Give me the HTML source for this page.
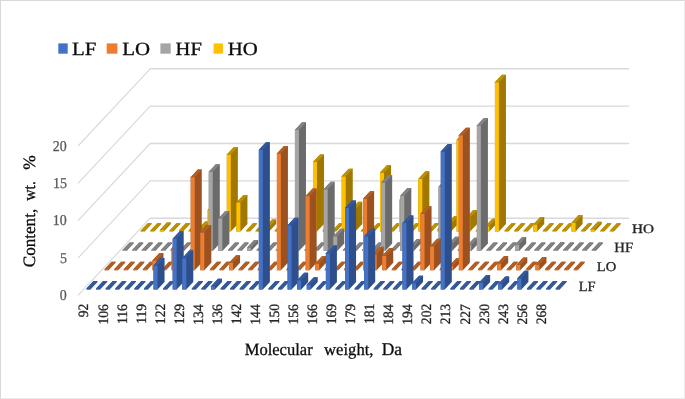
<!DOCTYPE html>
<html><head><meta charset="utf-8">
<style>
html,body{margin:0;padding:0;background:#fff;}
body{width:685px;height:399px;position:relative;overflow:hidden;font-family:"Liberation Serif",serif;}
#frame{position:absolute;left:0;top:0;width:683px;height:397px;border:1px solid #D9D9D9;border-right-color:#EBEBEB;border-bottom-color:#EBEBEB;}
svg{position:absolute;left:0;top:0;will-change:transform;filter:blur(0.45px);text-rendering:geometricPrecision;}
svg text{font-family:"Liberation Serif",serif;}
</style></head><body>
<div id="frame"></div>
<svg width="685" height="399" viewBox="0 0 685 399">
<line x1="78" y1="295.4" x2="150.2" y2="218.2" stroke="#D9D9D9" stroke-width="1.15"/>
<line x1="149.9" y1="218.2" x2="628.95" y2="218.2" stroke="#D9D9D9" stroke-width="1.4"/>
<line x1="78" y1="258.05" x2="150.2" y2="180.85" stroke="#D9D9D9" stroke-width="1.15"/>
<line x1="149.9" y1="180.85" x2="628.95" y2="180.85" stroke="#D9D9D9" stroke-width="1.4"/>
<line x1="78" y1="220.7" x2="150.2" y2="143.5" stroke="#D9D9D9" stroke-width="1.15"/>
<line x1="149.9" y1="143.5" x2="628.95" y2="143.5" stroke="#D9D9D9" stroke-width="1.4"/>
<line x1="78" y1="183.35" x2="150.2" y2="106.15" stroke="#D9D9D9" stroke-width="1.15"/>
<line x1="149.9" y1="106.15" x2="628.95" y2="106.15" stroke="#D9D9D9" stroke-width="1.4"/>
<line x1="78" y1="146" x2="150.2" y2="68.8" stroke="#D9D9D9" stroke-width="1.15"/>
<line x1="149.9" y1="68.8" x2="628.95" y2="68.8" stroke="#D9D9D9" stroke-width="1.4"/>
<polygon points="140.64,231.61 140.64,230.71 147.68,223.19 151.68,223.19 151.68,224.09 144.64,231.61" fill="#A07800"/><rect x="140.64" y="230.71" width="4" height="0.9" fill="#FFC000"/><polygon points="140.64,230.71 144.64,230.71 151.68,223.19 147.68,223.19" fill="#BE9100"/>
<polygon points="150.22,231.61 150.22,230.71 157.26,223.19 161.26,223.19 161.26,224.09 154.22,231.61" fill="#A07800"/><rect x="150.22" y="230.71" width="4" height="0.9" fill="#FFC000"/><polygon points="150.22,230.71 154.22,230.71 161.26,223.19 157.26,223.19" fill="#BE9100"/>
<polygon points="159.79,231.61 159.79,230.12 166.83,222.59 170.83,222.59 170.83,224.09 163.79,231.61" fill="#A07800"/><rect x="159.79" y="230.12" width="4" height="1.49" fill="#FFC000"/><polygon points="159.79,230.12 163.79,230.12 170.83,222.59 166.83,222.59" fill="#BE9100"/>
<polygon points="169.37,231.61 169.37,230.71 176.41,223.19 180.41,223.19 180.41,224.09 173.37,231.61" fill="#A07800"/><rect x="169.37" y="230.71" width="4" height="0.9" fill="#FFC000"/><polygon points="169.37,230.71 173.37,230.71 180.41,223.19 176.41,223.19" fill="#BE9100"/>
<polygon points="178.94,231.61 178.94,230.49 185.98,222.97 189.98,222.97 189.98,224.09 182.94,231.61" fill="#A07800"/><rect x="178.94" y="230.49" width="4" height="1.12" fill="#FFC000"/><polygon points="178.94,230.49 182.94,230.49 189.98,222.97 185.98,222.97" fill="#BE9100"/>
<polygon points="188.52,231.61 188.52,230.71 195.56,223.19 199.56,223.19 199.56,224.09 192.52,231.61" fill="#A07800"/><rect x="188.52" y="230.71" width="4" height="0.9" fill="#FFC000"/><polygon points="188.52,230.71 192.52,230.71 199.56,223.19 195.56,223.19" fill="#BE9100"/>
<polygon points="198.09,231.61 198.09,229 205.13,221.47 209.13,221.47 209.13,224.09 202.09,231.61" fill="#A07800"/><rect x="198.09" y="229" width="4" height="2.61" fill="#FFC000"/><polygon points="198.09,229 202.09,229 209.13,221.47 205.13,221.47" fill="#BE9100"/>
<polygon points="207.67,231.61 207.67,209.95 214.71,202.42 218.71,202.42 218.71,224.09 211.67,231.61" fill="#A07800"/><rect x="207.67" y="209.95" width="4" height="21.66" fill="#FFC000"/><polygon points="207.67,209.95 211.67,209.95 218.71,202.42 214.71,202.42" fill="#BE9100"/>
<polygon points="217.24,231.61 217.24,230.71 224.28,223.19 228.28,223.19 228.28,224.09 221.24,231.61" fill="#A07800"/><rect x="217.24" y="230.71" width="4" height="0.9" fill="#FFC000"/><polygon points="217.24,230.71 221.24,230.71 228.28,223.19 224.28,223.19" fill="#BE9100"/>
<polygon points="226.82,231.61 226.82,154.45 233.86,146.92 237.86,146.92 237.86,224.09 230.82,231.61" fill="#A07800"/><rect x="226.82" y="154.45" width="4" height="77.17" fill="#FFC000"/><polygon points="226.82,154.45 230.82,154.45 237.86,146.92 233.86,146.92" fill="#BE9100"/>
<polygon points="236.39,231.61 236.39,202.41 243.43,194.88 247.43,194.88 247.43,224.09 240.39,231.61" fill="#A07800"/><rect x="236.39" y="202.41" width="4" height="29.21" fill="#FFC000"/><polygon points="236.39,202.41 240.39,202.41 247.43,194.88 243.43,194.88" fill="#BE9100"/>
<polygon points="245.97,231.61 245.97,230.71 253.01,223.19 257.01,223.19 257.01,224.09 249.97,231.61" fill="#A07800"/><rect x="245.97" y="230.71" width="4" height="0.9" fill="#FFC000"/><polygon points="245.97,230.71 249.97,230.71 257.01,223.19 253.01,223.19" fill="#BE9100"/>
<polygon points="255.54,231.61 255.54,230.71 262.58,223.19 266.58,223.19 266.58,224.09 259.54,231.61" fill="#A07800"/><rect x="255.54" y="230.71" width="4" height="0.9" fill="#FFC000"/><polygon points="255.54,230.71 259.54,230.71 266.58,223.19 262.58,223.19" fill="#BE9100"/>
<polygon points="265.12,231.61 265.12,227.13 272.16,219.6 276.16,219.6 276.16,224.09 269.12,231.61" fill="#A07800"/><rect x="265.12" y="227.13" width="4" height="4.48" fill="#FFC000"/><polygon points="265.12,227.13 269.12,227.13 276.16,219.6 272.16,219.6" fill="#BE9100"/>
<polygon points="274.69,231.61 274.69,230.71 281.73,223.19 285.73,223.19 285.73,224.09 278.69,231.61" fill="#A07800"/><rect x="274.69" y="230.71" width="4" height="0.9" fill="#FFC000"/><polygon points="274.69,230.71 278.69,230.71 285.73,223.19 281.73,223.19" fill="#BE9100"/>
<polygon points="284.27,231.61 284.27,230.71 291.31,223.19 295.31,223.19 295.31,224.09 288.27,231.61" fill="#A07800"/><rect x="284.27" y="230.71" width="4" height="0.9" fill="#FFC000"/><polygon points="284.27,230.71 288.27,230.71 295.31,223.19 291.31,223.19" fill="#BE9100"/>
<polygon points="293.84,231.61 293.84,230.71 300.88,223.19 304.88,223.19 304.88,224.09 297.84,231.61" fill="#A07800"/><rect x="293.84" y="230.71" width="4" height="0.9" fill="#FFC000"/><polygon points="293.84,230.71 297.84,230.71 304.88,223.19 300.88,223.19" fill="#BE9100"/>
<polygon points="303.42,231.61 303.42,230.71 310.46,223.19 314.46,223.19 314.46,224.09 307.42,231.61" fill="#A07800"/><rect x="303.42" y="230.71" width="4" height="0.9" fill="#FFC000"/><polygon points="303.42,230.71 307.42,230.71 314.46,223.19 310.46,223.19" fill="#BE9100"/>
<polygon points="312.99,231.61 312.99,161.92 320.03,154.39 324.03,154.39 324.03,224.09 316.99,231.61" fill="#A07800"/><rect x="312.99" y="161.92" width="4" height="69.7" fill="#FFC000"/><polygon points="312.99,161.92 316.99,161.92 324.03,154.39 320.03,154.39" fill="#BE9100"/>
<polygon points="322.57,231.61 322.57,230.71 329.61,223.19 333.61,223.19 333.61,224.09 326.57,231.61" fill="#A07800"/><rect x="322.57" y="230.71" width="4" height="0.9" fill="#FFC000"/><polygon points="322.57,230.71 326.57,230.71 333.61,223.19 329.61,223.19" fill="#BE9100"/>
<polygon points="332.14,231.61 332.14,230.71 339.18,223.19 343.18,223.19 343.18,224.09 336.14,231.61" fill="#A07800"/><rect x="332.14" y="230.71" width="4" height="0.9" fill="#FFC000"/><polygon points="332.14,230.71 336.14,230.71 343.18,223.19 339.18,223.19" fill="#BE9100"/>
<polygon points="341.72,231.61 341.72,176.34 348.76,168.81 352.76,168.81 352.76,224.09 345.72,231.61" fill="#A07800"/><rect x="341.72" y="176.34" width="4" height="55.28" fill="#FFC000"/><polygon points="341.72,176.34 345.72,176.34 352.76,168.81 348.76,168.81" fill="#BE9100"/>
<polygon points="351.29,231.61 351.29,209.2 358.33,201.68 362.33,201.68 362.33,224.09 355.29,231.61" fill="#A07800"/><rect x="351.29" y="209.2" width="4" height="22.41" fill="#FFC000"/><polygon points="351.29,209.2 355.29,209.2 362.33,201.68 358.33,201.68" fill="#BE9100"/>
<polygon points="360.87,231.61 360.87,230.71 367.91,223.19 371.91,223.19 371.91,224.09 364.87,231.61" fill="#A07800"/><rect x="360.87" y="230.71" width="4" height="0.9" fill="#FFC000"/><polygon points="360.87,230.71 364.87,230.71 371.91,223.19 367.91,223.19" fill="#BE9100"/>
<polygon points="370.44,231.61 370.44,230.71 377.48,223.19 381.48,223.19 381.48,224.09 374.44,231.61" fill="#A07800"/><rect x="370.44" y="230.71" width="4" height="0.9" fill="#FFC000"/><polygon points="370.44,230.71 374.44,230.71 381.48,223.19 377.48,223.19" fill="#BE9100"/>
<polygon points="380.02,231.61 380.02,172.6 387.06,165.07 391.06,165.07 391.06,224.09 384.02,231.61" fill="#A07800"/><rect x="380.02" y="172.6" width="4" height="59.01" fill="#FFC000"/><polygon points="380.02,172.6 384.02,172.6 391.06,165.07 387.06,165.07" fill="#BE9100"/>
<polygon points="389.59,231.61 389.59,230.71 396.63,223.19 400.63,223.19 400.63,224.09 393.59,231.61" fill="#A07800"/><rect x="389.59" y="230.71" width="4" height="0.9" fill="#FFC000"/><polygon points="389.59,230.71 393.59,230.71 400.63,223.19 396.63,223.19" fill="#BE9100"/>
<polygon points="399.17,231.61 399.17,200.24 406.21,192.71 410.21,192.71 410.21,224.09 403.17,231.61" fill="#A07800"/><rect x="399.17" y="200.24" width="4" height="31.37" fill="#FFC000"/><polygon points="399.17,200.24 403.17,200.24 410.21,192.71 406.21,192.71" fill="#BE9100"/>
<polygon points="408.74,231.61 408.74,230.71 415.78,223.19 419.78,223.19 419.78,224.09 412.74,231.61" fill="#A07800"/><rect x="408.74" y="230.71" width="4" height="0.9" fill="#FFC000"/><polygon points="408.74,230.71 412.74,230.71 419.78,223.19 415.78,223.19" fill="#BE9100"/>
<polygon points="418.32,231.61 418.32,178.88 425.36,171.35 429.36,171.35 429.36,224.09 422.32,231.61" fill="#A07800"/><rect x="418.32" y="178.88" width="4" height="52.74" fill="#FFC000"/><polygon points="418.32,178.88 422.32,178.88 429.36,171.35 425.36,171.35" fill="#BE9100"/>
<polygon points="427.89,231.61 427.89,230.71 434.93,223.19 438.93,223.19 438.93,224.09 431.89,231.61" fill="#A07800"/><rect x="427.89" y="230.71" width="4" height="0.9" fill="#FFC000"/><polygon points="427.89,230.71 431.89,230.71 438.93,223.19 434.93,223.19" fill="#BE9100"/>
<polygon points="437.47,231.61 437.47,229.15 444.51,221.62 448.51,221.62 448.51,224.09 441.47,231.61" fill="#A07800"/><rect x="437.47" y="229.15" width="4" height="2.47" fill="#FFC000"/><polygon points="437.47,229.15 441.47,229.15 448.51,221.62 444.51,221.62" fill="#BE9100"/>
<polygon points="447.04,231.61 447.04,223.77 454.08,216.24 458.08,216.24 458.08,224.09 451.04,231.61" fill="#A07800"/><rect x="447.04" y="223.77" width="4" height="7.84" fill="#FFC000"/><polygon points="447.04,223.77 451.04,223.77 458.08,216.24 454.08,216.24" fill="#BE9100"/>
<polygon points="456.62,231.61 456.62,140.03 463.66,132.5 467.66,132.5 467.66,224.09 460.62,231.61" fill="#A07800"/><rect x="456.62" y="140.03" width="4" height="91.58" fill="#FFC000"/><polygon points="456.62,140.03 460.62,140.03 467.66,132.5 463.66,132.5" fill="#BE9100"/>
<polygon points="466.19,231.61 466.19,217.42 473.23,209.89 477.23,209.89 477.23,224.09 470.19,231.61" fill="#A07800"/><rect x="466.19" y="217.42" width="4" height="14.19" fill="#FFC000"/><polygon points="466.19,217.42 470.19,217.42 477.23,209.89 473.23,209.89" fill="#BE9100"/>
<polygon points="475.77,231.61 475.77,230.71 482.81,223.19 486.81,223.19 486.81,224.09 479.77,231.61" fill="#A07800"/><rect x="475.77" y="230.71" width="4" height="0.9" fill="#FFC000"/><polygon points="475.77,230.71 479.77,230.71 486.81,223.19 482.81,223.19" fill="#BE9100"/>
<polygon points="485.34,231.61 485.34,226.16 492.38,218.63 496.38,218.63 496.38,224.09 489.34,231.61" fill="#A07800"/><rect x="485.34" y="226.16" width="4" height="5.45" fill="#FFC000"/><polygon points="485.34,226.16 489.34,226.16 496.38,218.63 492.38,218.63" fill="#BE9100"/>
<polygon points="494.92,231.61 494.92,82.21 501.96,74.69 505.96,74.69 505.96,224.09 498.92,231.61" fill="#A07800"/><rect x="494.92" y="82.21" width="4" height="149.4" fill="#FFC000"/><polygon points="494.92,82.21 498.92,82.21 505.96,74.69 501.96,74.69" fill="#BE9100"/>
<polygon points="504.49,231.61 504.49,230.71 511.53,223.19 515.53,223.19 515.53,224.09 508.49,231.61" fill="#A07800"/><rect x="504.49" y="230.71" width="4" height="0.9" fill="#FFC000"/><polygon points="504.49,230.71 508.49,230.71 515.53,223.19 511.53,223.19" fill="#BE9100"/>
<polygon points="514.07,231.61 514.07,230.71 521.11,223.19 525.11,223.19 525.11,224.09 518.07,231.61" fill="#A07800"/><rect x="514.07" y="230.71" width="4" height="0.9" fill="#FFC000"/><polygon points="514.07,230.71 518.07,230.71 525.11,223.19 521.11,223.19" fill="#BE9100"/>
<polygon points="523.64,231.61 523.64,230.71 530.68,223.19 534.68,223.19 534.68,224.09 527.64,231.61" fill="#A07800"/><rect x="523.64" y="230.71" width="4" height="0.9" fill="#FFC000"/><polygon points="523.64,230.71 527.64,230.71 534.68,223.19 530.68,223.19" fill="#BE9100"/>
<polygon points="533.22,231.61 533.22,224.52 540.26,216.99 544.26,216.99 544.26,224.09 537.22,231.61" fill="#A07800"/><rect x="533.22" y="224.52" width="4" height="7.1" fill="#FFC000"/><polygon points="533.22,224.52 537.22,224.52 544.26,216.99 540.26,216.99" fill="#BE9100"/>
<polygon points="542.79,231.61 542.79,230.71 549.83,223.19 553.83,223.19 553.83,224.09 546.79,231.61" fill="#A07800"/><rect x="542.79" y="230.71" width="4" height="0.9" fill="#FFC000"/><polygon points="542.79,230.71 546.79,230.71 553.83,223.19 549.83,223.19" fill="#BE9100"/>
<polygon points="552.37,231.61 552.37,230.71 559.41,223.19 563.41,223.19 563.41,224.09 556.37,231.61" fill="#A07800"/><rect x="552.37" y="230.71" width="4" height="0.9" fill="#FFC000"/><polygon points="552.37,230.71 556.37,230.71 563.41,223.19 559.41,223.19" fill="#BE9100"/>
<polygon points="561.94,231.61 561.94,230.71 568.98,223.19 572.98,223.19 572.98,224.09 565.94,231.61" fill="#A07800"/><rect x="561.94" y="230.71" width="4" height="0.9" fill="#FFC000"/><polygon points="561.94,230.71 565.94,230.71 572.98,223.19 568.98,223.19" fill="#BE9100"/>
<polygon points="571.52,231.61 571.52,222.65 578.56,215.12 582.56,215.12 582.56,224.09 575.52,231.61" fill="#A07800"/><rect x="571.52" y="222.65" width="4" height="8.96" fill="#FFC000"/><polygon points="571.52,222.65 575.52,222.65 582.56,215.12 578.56,215.12" fill="#BE9100"/>
<polygon points="581.09,231.61 581.09,230.71 588.13,223.19 592.13,223.19 592.13,224.09 585.09,231.61" fill="#A07800"/><rect x="581.09" y="230.71" width="4" height="0.9" fill="#FFC000"/><polygon points="581.09,230.71 585.09,230.71 592.13,223.19 588.13,223.19" fill="#BE9100"/>
<polygon points="590.67,231.61 590.67,229.37 597.71,221.85 601.71,221.85 601.71,224.09 594.67,231.61" fill="#A07800"/><rect x="590.67" y="229.37" width="4" height="2.24" fill="#FFC000"/><polygon points="590.67,229.37 594.67,229.37 601.71,221.85 597.71,221.85" fill="#BE9100"/>
<polygon points="600.24,231.61 600.24,230.71 607.28,223.19 611.28,223.19 611.28,224.09 604.24,231.61" fill="#A07800"/><rect x="600.24" y="230.71" width="4" height="0.9" fill="#FFC000"/><polygon points="600.24,230.71 604.24,230.71 611.28,223.19 607.28,223.19" fill="#BE9100"/>
<polygon points="609.82,231.61 609.82,230.71 616.86,223.19 620.86,223.19 620.86,224.09 613.82,231.61" fill="#A07800"/><rect x="609.82" y="230.71" width="4" height="0.9" fill="#FFC000"/><polygon points="609.82,230.71 613.82,230.71 620.86,223.19 616.86,223.19" fill="#BE9100"/>
<polygon points="122.59,250.91 122.59,250.01 129.63,242.49 133.63,242.49 133.63,243.39 126.59,250.91" fill="#6B6B6B"/><rect x="122.59" y="250.01" width="4" height="0.9" fill="#A5A5A5"/><polygon points="122.59,250.01 126.59,250.01 133.63,242.49 129.63,242.49" fill="#838383"/>
<polygon points="132.17,250.91 132.17,250.01 139.21,242.49 143.21,242.49 143.21,243.39 136.17,250.91" fill="#6B6B6B"/><rect x="132.17" y="250.01" width="4" height="0.9" fill="#A5A5A5"/><polygon points="132.17,250.01 136.17,250.01 143.21,242.49 139.21,242.49" fill="#838383"/>
<polygon points="141.74,250.91 141.74,250.01 148.78,242.49 152.78,242.49 152.78,243.39 145.74,250.91" fill="#6B6B6B"/><rect x="141.74" y="250.01" width="4" height="0.9" fill="#A5A5A5"/><polygon points="141.74,250.01 145.74,250.01 152.78,242.49 148.78,242.49" fill="#838383"/>
<polygon points="151.32,250.91 151.32,250.01 158.36,242.49 162.36,242.49 162.36,243.39 155.32,250.91" fill="#6B6B6B"/><rect x="151.32" y="250.01" width="4" height="0.9" fill="#A5A5A5"/><polygon points="151.32,250.01 155.32,250.01 162.36,242.49 158.36,242.49" fill="#838383"/>
<polygon points="160.89,250.91 160.89,250.01 167.93,242.49 171.93,242.49 171.93,243.39 164.89,250.91" fill="#6B6B6B"/><rect x="160.89" y="250.01" width="4" height="0.9" fill="#A5A5A5"/><polygon points="160.89,250.01 164.89,250.01 171.93,242.49 167.93,242.49" fill="#838383"/>
<polygon points="170.47,250.91 170.47,250.01 177.51,242.49 181.51,242.49 181.51,243.39 174.47,250.91" fill="#6B6B6B"/><rect x="170.47" y="250.01" width="4" height="0.9" fill="#A5A5A5"/><polygon points="170.47,250.01 174.47,250.01 181.51,242.49 177.51,242.49" fill="#838383"/>
<polygon points="180.04,250.91 180.04,250.01 187.08,242.49 191.08,242.49 191.08,243.39 184.04,250.91" fill="#6B6B6B"/><rect x="180.04" y="250.01" width="4" height="0.9" fill="#A5A5A5"/><polygon points="180.04,250.01 184.04,250.01 191.08,242.49 187.08,242.49" fill="#838383"/>
<polygon points="189.62,250.91 189.62,250.01 196.66,242.49 200.66,242.49 200.66,243.39 193.62,250.91" fill="#6B6B6B"/><rect x="189.62" y="250.01" width="4" height="0.9" fill="#A5A5A5"/><polygon points="189.62,250.01 193.62,250.01 200.66,242.49 196.66,242.49" fill="#838383"/>
<polygon points="199.19,250.91 199.19,250.01 206.23,242.49 210.23,242.49 210.23,243.39 203.19,250.91" fill="#6B6B6B"/><rect x="199.19" y="250.01" width="4" height="0.9" fill="#A5A5A5"/><polygon points="199.19,250.01 203.19,250.01 210.23,242.49 206.23,242.49" fill="#838383"/>
<polygon points="208.77,250.91 208.77,171.73 215.81,164.2 219.81,164.2 219.81,243.39 212.77,250.91" fill="#6B6B6B"/><rect x="208.77" y="171.73" width="4" height="79.18" fill="#A5A5A5"/><polygon points="208.77,171.73 212.77,171.73 219.81,164.2 215.81,164.2" fill="#838383"/>
<polygon points="218.34,250.91 218.34,218.42 225.38,210.89 229.38,210.89 229.38,243.39 222.34,250.91" fill="#6B6B6B"/><rect x="218.34" y="218.42" width="4" height="32.49" fill="#A5A5A5"/><polygon points="218.34,218.42 222.34,218.42 229.38,210.89 225.38,210.89" fill="#838383"/>
<polygon points="227.92,250.91 227.92,250.01 234.96,242.49 238.96,242.49 238.96,243.39 231.92,250.91" fill="#6B6B6B"/><rect x="227.92" y="250.01" width="4" height="0.9" fill="#A5A5A5"/><polygon points="227.92,250.01 231.92,250.01 238.96,242.49 234.96,242.49" fill="#838383"/>
<polygon points="237.49,250.91 237.49,250.01 244.53,242.49 248.53,242.49 248.53,243.39 241.49,250.91" fill="#6B6B6B"/><rect x="237.49" y="250.01" width="4" height="0.9" fill="#A5A5A5"/><polygon points="237.49,250.01 241.49,250.01 248.53,242.49 244.53,242.49" fill="#838383"/>
<polygon points="247.07,250.91 247.07,247.55 254.11,240.02 258.11,240.02 258.11,243.39 251.07,250.91" fill="#6B6B6B"/><rect x="247.07" y="247.55" width="4" height="3.36" fill="#A5A5A5"/><polygon points="247.07,247.55 251.07,247.55 258.11,240.02 254.11,240.02" fill="#838383"/>
<polygon points="256.64,250.91 256.64,250.01 263.68,242.49 267.68,242.49 267.68,243.39 260.64,250.91" fill="#6B6B6B"/><rect x="256.64" y="250.01" width="4" height="0.9" fill="#A5A5A5"/><polygon points="256.64,250.01 260.64,250.01 267.68,242.49 263.68,242.49" fill="#838383"/>
<polygon points="266.22,250.91 266.22,250.01 273.26,242.49 277.26,242.49 277.26,243.39 270.22,250.91" fill="#6B6B6B"/><rect x="266.22" y="250.01" width="4" height="0.9" fill="#A5A5A5"/><polygon points="266.22,250.01 270.22,250.01 277.26,242.49 273.26,242.49" fill="#838383"/>
<polygon points="275.79,250.91 275.79,250.01 282.83,242.49 286.83,242.49 286.83,243.39 279.79,250.91" fill="#6B6B6B"/><rect x="275.79" y="250.01" width="4" height="0.9" fill="#A5A5A5"/><polygon points="275.79,250.01 279.79,250.01 286.83,242.49 282.83,242.49" fill="#838383"/>
<polygon points="285.37,250.91 285.37,250.01 292.41,242.49 296.41,242.49 296.41,243.39 289.37,250.91" fill="#6B6B6B"/><rect x="285.37" y="250.01" width="4" height="0.9" fill="#A5A5A5"/><polygon points="285.37,250.01 289.37,250.01 296.41,242.49 292.41,242.49" fill="#838383"/>
<polygon points="294.94,250.91 294.94,129.9 301.98,122.37 305.98,122.37 305.98,243.39 298.94,250.91" fill="#6B6B6B"/><rect x="294.94" y="129.9" width="4" height="121.01" fill="#A5A5A5"/><polygon points="294.94,129.9 298.94,129.9 305.98,122.37 301.98,122.37" fill="#838383"/>
<polygon points="304.52,250.91 304.52,250.01 311.56,242.49 315.56,242.49 315.56,243.39 308.52,250.91" fill="#6B6B6B"/><rect x="304.52" y="250.01" width="4" height="0.9" fill="#A5A5A5"/><polygon points="304.52,250.01 308.52,250.01 315.56,242.49 311.56,242.49" fill="#838383"/>
<polygon points="314.09,250.91 314.09,250.01 321.13,242.49 325.13,242.49 325.13,243.39 318.09,250.91" fill="#6B6B6B"/><rect x="314.09" y="250.01" width="4" height="0.9" fill="#A5A5A5"/><polygon points="314.09,250.01 318.09,250.01 325.13,242.49 321.13,242.49" fill="#838383"/>
<polygon points="323.67,250.91 323.67,189.36 330.71,181.83 334.71,181.83 334.71,243.39 327.67,250.91" fill="#6B6B6B"/><rect x="323.67" y="189.36" width="4" height="61.55" fill="#A5A5A5"/><polygon points="323.67,189.36 327.67,189.36 334.71,181.83 330.71,181.83" fill="#838383"/>
<polygon points="333.24,250.91 333.24,236.35 340.28,228.82 344.28,228.82 344.28,243.39 337.24,250.91" fill="#6B6B6B"/><rect x="333.24" y="236.35" width="4" height="14.57" fill="#A5A5A5"/><polygon points="333.24,236.35 337.24,236.35 344.28,228.82 340.28,228.82" fill="#838383"/>
<polygon points="342.82,250.91 342.82,250.01 349.86,242.49 353.86,242.49 353.86,243.39 346.82,250.91" fill="#6B6B6B"/><rect x="342.82" y="250.01" width="4" height="0.9" fill="#A5A5A5"/><polygon points="342.82,250.01 346.82,250.01 353.86,242.49 349.86,242.49" fill="#838383"/>
<polygon points="352.39,250.91 352.39,250.01 359.43,242.49 363.43,242.49 363.43,243.39 356.39,250.91" fill="#6B6B6B"/><rect x="352.39" y="250.01" width="4" height="0.9" fill="#A5A5A5"/><polygon points="352.39,250.01 356.39,250.01 363.43,242.49 359.43,242.49" fill="#838383"/>
<polygon points="361.97,250.91 361.97,250.01 369.01,242.49 373.01,242.49 373.01,243.39 365.97,250.91" fill="#6B6B6B"/><rect x="361.97" y="250.01" width="4" height="0.9" fill="#A5A5A5"/><polygon points="361.97,250.01 365.97,250.01 373.01,242.49 369.01,242.49" fill="#838383"/>
<polygon points="371.54,250.91 371.54,250.01 378.58,242.49 382.58,242.49 382.58,243.39 375.54,250.91" fill="#6B6B6B"/><rect x="371.54" y="250.01" width="4" height="0.9" fill="#A5A5A5"/><polygon points="371.54,250.01 375.54,250.01 382.58,242.49 378.58,242.49" fill="#838383"/>
<polygon points="381.12,250.91 381.12,182.56 388.16,175.04 392.16,175.04 392.16,243.39 385.12,250.91" fill="#6B6B6B"/><rect x="381.12" y="182.56" width="4" height="68.35" fill="#A5A5A5"/><polygon points="381.12,182.56 385.12,182.56 392.16,175.04 388.16,175.04" fill="#838383"/>
<polygon points="390.69,250.91 390.69,250.01 397.73,242.49 401.73,242.49 401.73,243.39 394.69,250.91" fill="#6B6B6B"/><rect x="390.69" y="250.01" width="4" height="0.9" fill="#A5A5A5"/><polygon points="390.69,250.01 394.69,250.01 401.73,242.49 397.73,242.49" fill="#838383"/>
<polygon points="400.27,250.91 400.27,195.64 407.31,188.11 411.31,188.11 411.31,243.39 404.27,250.91" fill="#6B6B6B"/><rect x="400.27" y="195.64" width="4" height="55.28" fill="#A5A5A5"/><polygon points="400.27,195.64 404.27,195.64 411.31,188.11 407.31,188.11" fill="#838383"/>
<polygon points="409.84,250.91 409.84,246.43 416.88,238.9 420.88,238.9 420.88,243.39 413.84,250.91" fill="#6B6B6B"/><rect x="409.84" y="246.43" width="4" height="4.48" fill="#A5A5A5"/><polygon points="409.84,246.43 413.84,246.43 420.88,238.9 416.88,238.9" fill="#838383"/>
<polygon points="419.42,250.91 419.42,250.01 426.46,242.49 430.46,242.49 430.46,243.39 423.42,250.91" fill="#6B6B6B"/><rect x="419.42" y="250.01" width="4" height="0.9" fill="#A5A5A5"/><polygon points="419.42,250.01 423.42,250.01 430.46,242.49 426.46,242.49" fill="#838383"/>
<polygon points="428.99,250.91 428.99,250.01 436.03,242.49 440.03,242.49 440.03,243.39 432.99,250.91" fill="#6B6B6B"/><rect x="428.99" y="250.01" width="4" height="0.9" fill="#A5A5A5"/><polygon points="428.99,250.01 432.99,250.01 440.03,242.49 436.03,242.49" fill="#838383"/>
<polygon points="438.57,250.91 438.57,186.67 445.61,179.14 449.61,179.14 449.61,243.39 442.57,250.91" fill="#6B6B6B"/><rect x="438.57" y="186.67" width="4" height="64.24" fill="#A5A5A5"/><polygon points="438.57,186.67 442.57,186.67 449.61,179.14 445.61,179.14" fill="#838383"/>
<polygon points="448.14,250.91 448.14,244.19 455.18,236.66 459.18,236.66 459.18,243.39 452.14,250.91" fill="#6B6B6B"/><rect x="448.14" y="244.19" width="4" height="6.72" fill="#A5A5A5"/><polygon points="448.14,244.19 452.14,244.19 459.18,236.66 455.18,236.66" fill="#838383"/>
<polygon points="457.72,250.91 457.72,250.01 464.76,242.49 468.76,242.49 468.76,243.39 461.72,250.91" fill="#6B6B6B"/><rect x="457.72" y="250.01" width="4" height="0.9" fill="#A5A5A5"/><polygon points="457.72,250.01 461.72,250.01 468.76,242.49 464.76,242.49" fill="#838383"/>
<polygon points="467.29,250.91 467.29,245.16 474.33,237.63 478.33,237.63 478.33,243.39 471.29,250.91" fill="#6B6B6B"/><rect x="467.29" y="245.16" width="4" height="5.75" fill="#A5A5A5"/><polygon points="467.29,245.16 471.29,245.16 478.33,237.63 474.33,237.63" fill="#838383"/>
<polygon points="476.87,250.91 476.87,125.42 483.91,117.89 487.91,117.89 487.91,243.39 480.87,250.91" fill="#6B6B6B"/><rect x="476.87" y="125.42" width="4" height="125.5" fill="#A5A5A5"/><polygon points="476.87,125.42 480.87,125.42 487.91,117.89 483.91,117.89" fill="#838383"/>
<polygon points="486.44,250.91 486.44,250.01 493.48,242.49 497.48,242.49 497.48,243.39 490.44,250.91" fill="#6B6B6B"/><rect x="486.44" y="250.01" width="4" height="0.9" fill="#A5A5A5"/><polygon points="486.44,250.01 490.44,250.01 497.48,242.49 493.48,242.49" fill="#838383"/>
<polygon points="496.02,250.91 496.02,250.01 503.06,242.49 507.06,242.49 507.06,243.39 500.02,250.91" fill="#6B6B6B"/><rect x="496.02" y="250.01" width="4" height="0.9" fill="#A5A5A5"/><polygon points="496.02,250.01 500.02,250.01 507.06,242.49 503.06,242.49" fill="#838383"/>
<polygon points="505.59,250.91 505.59,250.01 512.63,242.49 516.63,242.49 516.63,243.39 509.59,250.91" fill="#6B6B6B"/><rect x="505.59" y="250.01" width="4" height="0.9" fill="#A5A5A5"/><polygon points="505.59,250.01 509.59,250.01 516.63,242.49 512.63,242.49" fill="#838383"/>
<polygon points="515.17,250.91 515.17,244.56 522.21,237.04 526.21,237.04 526.21,243.39 519.17,250.91" fill="#6B6B6B"/><rect x="515.17" y="244.56" width="4" height="6.35" fill="#A5A5A5"/><polygon points="515.17,244.56 519.17,244.56 526.21,237.04 522.21,237.04" fill="#838383"/>
<polygon points="524.74,250.91 524.74,250.01 531.78,242.49 535.78,242.49 535.78,243.39 528.74,250.91" fill="#6B6B6B"/><rect x="524.74" y="250.01" width="4" height="0.9" fill="#A5A5A5"/><polygon points="524.74,250.01 528.74,250.01 535.78,242.49 531.78,242.49" fill="#838383"/>
<polygon points="534.32,250.91 534.32,250.01 541.36,242.49 545.36,242.49 545.36,243.39 538.32,250.91" fill="#6B6B6B"/><rect x="534.32" y="250.01" width="4" height="0.9" fill="#A5A5A5"/><polygon points="534.32,250.01 538.32,250.01 545.36,242.49 541.36,242.49" fill="#838383"/>
<polygon points="543.89,250.91 543.89,250.01 550.93,242.49 554.93,242.49 554.93,243.39 547.89,250.91" fill="#6B6B6B"/><rect x="543.89" y="250.01" width="4" height="0.9" fill="#A5A5A5"/><polygon points="543.89,250.01 547.89,250.01 554.93,242.49 550.93,242.49" fill="#838383"/>
<polygon points="553.47,250.91 553.47,249.79 560.51,242.27 564.51,242.27 564.51,243.39 557.47,250.91" fill="#6B6B6B"/><rect x="553.47" y="249.79" width="4" height="1.12" fill="#A5A5A5"/><polygon points="553.47,249.79 557.47,249.79 564.51,242.27 560.51,242.27" fill="#838383"/>
<polygon points="563.04,250.91 563.04,250.01 570.08,242.49 574.08,242.49 574.08,243.39 567.04,250.91" fill="#6B6B6B"/><rect x="563.04" y="250.01" width="4" height="0.9" fill="#A5A5A5"/><polygon points="563.04,250.01 567.04,250.01 574.08,242.49 570.08,242.49" fill="#838383"/>
<polygon points="572.62,250.91 572.62,250.01 579.66,242.49 583.66,242.49 583.66,243.39 576.62,250.91" fill="#6B6B6B"/><rect x="572.62" y="250.01" width="4" height="0.9" fill="#A5A5A5"/><polygon points="572.62,250.01 576.62,250.01 583.66,242.49 579.66,242.49" fill="#838383"/>
<polygon points="582.19,250.91 582.19,250.01 589.23,242.49 593.23,242.49 593.23,243.39 586.19,250.91" fill="#6B6B6B"/><rect x="582.19" y="250.01" width="4" height="0.9" fill="#A5A5A5"/><polygon points="582.19,250.01 586.19,250.01 593.23,242.49 589.23,242.49" fill="#838383"/>
<polygon points="591.77,250.91 591.77,250.01 598.81,242.49 602.81,242.49 602.81,243.39 595.77,250.91" fill="#6B6B6B"/><rect x="591.77" y="250.01" width="4" height="0.9" fill="#A5A5A5"/><polygon points="591.77,250.01 595.77,250.01 602.81,242.49 598.81,242.49" fill="#838383"/>
<polygon points="104.54,270.21 104.54,269.31 111.58,261.79 115.58,261.79 115.58,262.69 108.54,270.21" fill="#9B5220"/><rect x="104.54" y="269.31" width="4" height="0.9" fill="#ED7D31"/><polygon points="104.54,269.31 108.54,269.31 115.58,261.79 111.58,261.79" fill="#B35E22"/>
<polygon points="114.12,270.21 114.12,269.31 121.16,261.79 125.16,261.79 125.16,262.69 118.12,270.21" fill="#9B5220"/><rect x="114.12" y="269.31" width="4" height="0.9" fill="#ED7D31"/><polygon points="114.12,269.31 118.12,269.31 125.16,261.79 121.16,261.79" fill="#B35E22"/>
<polygon points="123.69,270.21 123.69,269.31 130.73,261.79 134.73,261.79 134.73,262.69 127.69,270.21" fill="#9B5220"/><rect x="123.69" y="269.31" width="4" height="0.9" fill="#ED7D31"/><polygon points="123.69,269.31 127.69,269.31 134.73,261.79 130.73,261.79" fill="#B35E22"/>
<polygon points="133.27,270.21 133.27,269.31 140.31,261.79 144.31,261.79 144.31,262.69 137.27,270.21" fill="#9B5220"/><rect x="133.27" y="269.31" width="4" height="0.9" fill="#ED7D31"/><polygon points="133.27,269.31 137.27,269.31 144.31,261.79 140.31,261.79" fill="#B35E22"/>
<polygon points="142.84,270.21 142.84,269.31 149.88,261.79 153.88,261.79 153.88,262.69 146.84,270.21" fill="#9B5220"/><rect x="142.84" y="269.31" width="4" height="0.9" fill="#ED7D31"/><polygon points="142.84,269.31 146.84,269.31 153.88,261.79 149.88,261.79" fill="#B35E22"/>
<polygon points="152.42,270.21 152.42,260.5 159.46,252.98 163.46,252.98 163.46,262.69 156.42,270.21" fill="#9B5220"/><rect x="152.42" y="260.5" width="4" height="9.71" fill="#ED7D31"/><polygon points="152.42,260.5 156.42,260.5 163.46,252.98 159.46,252.98" fill="#B35E22"/>
<polygon points="161.99,270.21 161.99,269.31 169.03,261.79 173.03,261.79 173.03,262.69 165.99,270.21" fill="#9B5220"/><rect x="161.99" y="269.31" width="4" height="0.9" fill="#ED7D31"/><polygon points="161.99,269.31 165.99,269.31 173.03,261.79 169.03,261.79" fill="#B35E22"/>
<polygon points="171.57,270.21 171.57,248.55 178.61,241.02 182.61,241.02 182.61,262.69 175.57,270.21" fill="#9B5220"/><rect x="171.57" y="248.55" width="4" height="21.66" fill="#ED7D31"/><polygon points="171.57,248.55 175.57,248.55 182.61,241.02 178.61,241.02" fill="#B35E22"/>
<polygon points="181.14,270.21 181.14,269.31 188.18,261.79 192.18,261.79 192.18,262.69 185.14,270.21" fill="#9B5220"/><rect x="181.14" y="269.31" width="4" height="0.9" fill="#ED7D31"/><polygon points="181.14,269.31 185.14,269.31 192.18,261.79 188.18,261.79" fill="#B35E22"/>
<polygon points="190.72,270.21 190.72,177.14 197.76,169.61 201.76,169.61 201.76,262.69 194.72,270.21" fill="#9B5220"/><rect x="190.72" y="177.14" width="4" height="93.08" fill="#ED7D31"/><polygon points="190.72,177.14 194.72,177.14 201.76,169.61 197.76,169.61" fill="#B35E22"/>
<polygon points="200.29,270.21 200.29,232.49 207.33,224.96 211.33,224.96 211.33,262.69 204.29,270.21" fill="#9B5220"/><rect x="200.29" y="232.49" width="4" height="37.72" fill="#ED7D31"/><polygon points="200.29,232.49 204.29,232.49 211.33,224.96 207.33,224.96" fill="#B35E22"/>
<polygon points="209.87,270.21 209.87,269.31 216.91,261.79 220.91,261.79 220.91,262.69 213.87,270.21" fill="#9B5220"/><rect x="209.87" y="269.31" width="4" height="0.9" fill="#ED7D31"/><polygon points="209.87,269.31 213.87,269.31 220.91,261.79 216.91,261.79" fill="#B35E22"/>
<polygon points="219.44,270.21 219.44,269.31 226.48,261.79 230.48,261.79 230.48,262.69 223.44,270.21" fill="#9B5220"/><rect x="219.44" y="269.31" width="4" height="0.9" fill="#ED7D31"/><polygon points="219.44,269.31 223.44,269.31 230.48,261.79 226.48,261.79" fill="#B35E22"/>
<polygon points="229.02,270.21 229.02,262.82 236.06,255.29 240.06,255.29 240.06,262.69 233.02,270.21" fill="#9B5220"/><rect x="229.02" y="262.82" width="4" height="7.4" fill="#ED7D31"/><polygon points="229.02,262.82 233.02,262.82 240.06,255.29 236.06,255.29" fill="#B35E22"/>
<polygon points="238.59,270.21 238.59,269.31 245.63,261.79 249.63,261.79 249.63,262.69 242.59,270.21" fill="#9B5220"/><rect x="238.59" y="269.31" width="4" height="0.9" fill="#ED7D31"/><polygon points="238.59,269.31 242.59,269.31 249.63,261.79 245.63,261.79" fill="#B35E22"/>
<polygon points="248.17,270.21 248.17,269.31 255.21,261.79 259.21,261.79 259.21,262.69 252.17,270.21" fill="#9B5220"/><rect x="248.17" y="269.31" width="4" height="0.9" fill="#ED7D31"/><polygon points="248.17,269.31 252.17,269.31 259.21,261.79 255.21,261.79" fill="#B35E22"/>
<polygon points="257.74,270.21 257.74,269.31 264.78,261.79 268.78,261.79 268.78,262.69 261.74,270.21" fill="#9B5220"/><rect x="257.74" y="269.31" width="4" height="0.9" fill="#ED7D31"/><polygon points="257.74,269.31 261.74,269.31 268.78,261.79 264.78,261.79" fill="#B35E22"/>
<polygon points="267.32,270.21 267.32,269.31 274.36,261.79 278.36,261.79 278.36,262.69 271.32,270.21" fill="#9B5220"/><rect x="267.32" y="269.31" width="4" height="0.9" fill="#ED7D31"/><polygon points="267.32,269.31 271.32,269.31 278.36,261.79 274.36,261.79" fill="#B35E22"/>
<polygon points="276.89,270.21 276.89,153.46 283.93,145.93 287.93,145.93 287.93,262.69 280.89,270.21" fill="#9B5220"/><rect x="276.89" y="153.46" width="4" height="116.76" fill="#ED7D31"/><polygon points="276.89,153.46 280.89,153.46 287.93,145.93 283.93,145.93" fill="#B35E22"/>
<polygon points="286.47,270.21 286.47,269.31 293.51,261.79 297.51,261.79 297.51,262.69 290.47,270.21" fill="#9B5220"/><rect x="286.47" y="269.31" width="4" height="0.9" fill="#ED7D31"/><polygon points="286.47,269.31 290.47,269.31 297.51,261.79 293.51,261.79" fill="#B35E22"/>
<polygon points="296.04,270.21 296.04,269.31 303.08,261.79 307.08,261.79 307.08,262.69 300.04,270.21" fill="#9B5220"/><rect x="296.04" y="269.31" width="4" height="0.9" fill="#ED7D31"/><polygon points="296.04,269.31 300.04,269.31 307.08,261.79 303.08,261.79" fill="#B35E22"/>
<polygon points="305.62,270.21 305.62,196.04 312.66,188.51 316.66,188.51 316.66,262.69 309.62,270.21" fill="#9B5220"/><rect x="305.62" y="196.04" width="4" height="74.18" fill="#ED7D31"/><polygon points="305.62,196.04 309.62,196.04 316.66,188.51 312.66,188.51" fill="#B35E22"/>
<polygon points="315.19,270.21 315.19,263.49 322.23,255.96 326.23,255.96 326.23,262.69 319.19,270.21" fill="#9B5220"/><rect x="315.19" y="263.49" width="4" height="6.72" fill="#ED7D31"/><polygon points="315.19,263.49 319.19,263.49 326.23,255.96 322.23,255.96" fill="#B35E22"/>
<polygon points="324.77,270.21 324.77,269.31 331.81,261.79 335.81,261.79 335.81,262.69 328.77,270.21" fill="#9B5220"/><rect x="324.77" y="269.31" width="4" height="0.9" fill="#ED7D31"/><polygon points="324.77,269.31 328.77,269.31 335.81,261.79 331.81,261.79" fill="#B35E22"/>
<polygon points="334.34,270.21 334.34,269.31 341.38,261.79 345.38,261.79 345.38,262.69 338.34,270.21" fill="#9B5220"/><rect x="334.34" y="269.31" width="4" height="0.9" fill="#ED7D31"/><polygon points="334.34,269.31 338.34,269.31 345.38,261.79 341.38,261.79" fill="#B35E22"/>
<polygon points="343.92,270.21 343.92,269.31 350.96,261.79 354.96,261.79 354.96,262.69 347.92,270.21" fill="#9B5220"/><rect x="343.92" y="269.31" width="4" height="0.9" fill="#ED7D31"/><polygon points="343.92,269.31 347.92,269.31 354.96,261.79 350.96,261.79" fill="#B35E22"/>
<polygon points="353.49,270.21 353.49,269.31 360.53,261.79 364.53,261.79 364.53,262.69 357.49,270.21" fill="#9B5220"/><rect x="353.49" y="269.31" width="4" height="0.9" fill="#ED7D31"/><polygon points="353.49,269.31 357.49,269.31 364.53,261.79 360.53,261.79" fill="#B35E22"/>
<polygon points="363.07,270.21 363.07,198.87 370.11,191.35 374.11,191.35 374.11,262.69 367.07,270.21" fill="#9B5220"/><rect x="363.07" y="198.87" width="4" height="71.34" fill="#ED7D31"/><polygon points="363.07,198.87 367.07,198.87 374.11,191.35 370.11,191.35" fill="#B35E22"/>
<polygon points="372.64,270.21 372.64,254.15 379.68,246.63 383.68,246.63 383.68,262.69 376.64,270.21" fill="#9B5220"/><rect x="372.64" y="254.15" width="4" height="16.06" fill="#ED7D31"/><polygon points="372.64,254.15 376.64,254.15 383.68,246.63 379.68,246.63" fill="#B35E22"/>
<polygon points="382.22,270.21 382.22,255.65 389.26,248.12 393.26,248.12 393.26,262.69 386.22,270.21" fill="#9B5220"/><rect x="382.22" y="255.65" width="4" height="14.57" fill="#ED7D31"/><polygon points="382.22,255.65 386.22,255.65 393.26,248.12 389.26,248.12" fill="#B35E22"/>
<polygon points="391.79,270.21 391.79,269.31 398.83,261.79 402.83,261.79 402.83,262.69 395.79,270.21" fill="#9B5220"/><rect x="391.79" y="269.31" width="4" height="0.9" fill="#ED7D31"/><polygon points="391.79,269.31 395.79,269.31 402.83,261.79 398.83,261.79" fill="#B35E22"/>
<polygon points="401.37,270.21 401.37,269.31 408.41,261.79 412.41,261.79 412.41,262.69 405.37,270.21" fill="#9B5220"/><rect x="401.37" y="269.31" width="4" height="0.9" fill="#ED7D31"/><polygon points="401.37,269.31 405.37,269.31 412.41,261.79 408.41,261.79" fill="#B35E22"/>
<polygon points="410.94,270.21 410.94,269.31 417.98,261.79 421.98,261.79 421.98,262.69 414.94,270.21" fill="#9B5220"/><rect x="410.94" y="269.31" width="4" height="0.9" fill="#ED7D31"/><polygon points="410.94,269.31 414.94,269.31 421.98,261.79 417.98,261.79" fill="#B35E22"/>
<polygon points="420.52,270.21 420.52,213.81 427.56,206.29 431.56,206.29 431.56,262.69 424.52,270.21" fill="#9B5220"/><rect x="420.52" y="213.81" width="4" height="56.4" fill="#ED7D31"/><polygon points="420.52,213.81 424.52,213.81 431.56,206.29 427.56,206.29" fill="#B35E22"/>
<polygon points="430.09,270.21 430.09,246.31 437.13,238.78 441.13,238.78 441.13,262.69 434.09,270.21" fill="#9B5220"/><rect x="430.09" y="246.31" width="4" height="23.9" fill="#ED7D31"/><polygon points="430.09,246.31 434.09,246.31 441.13,238.78 437.13,238.78" fill="#B35E22"/>
<polygon points="439.67,270.21 439.67,269.31 446.71,261.79 450.71,261.79 450.71,262.69 443.67,270.21" fill="#9B5220"/><rect x="439.67" y="269.31" width="4" height="0.9" fill="#ED7D31"/><polygon points="439.67,269.31 443.67,269.31 450.71,261.79 446.71,261.79" fill="#B35E22"/>
<polygon points="449.24,270.21 449.24,265.73 456.28,258.2 460.28,258.2 460.28,262.69 453.24,270.21" fill="#9B5220"/><rect x="449.24" y="265.73" width="4" height="4.48" fill="#ED7D31"/><polygon points="449.24,265.73 453.24,265.73 460.28,258.2 456.28,258.2" fill="#B35E22"/>
<polygon points="458.82,270.21 458.82,135.16 465.86,127.63 469.86,127.63 469.86,262.69 462.82,270.21" fill="#9B5220"/><rect x="458.82" y="135.16" width="4" height="135.06" fill="#ED7D31"/><polygon points="458.82,135.16 462.82,135.16 469.86,127.63 465.86,127.63" fill="#B35E22"/>
<polygon points="468.39,270.21 468.39,269.31 475.43,261.79 479.43,261.79 479.43,262.69 472.39,270.21" fill="#9B5220"/><rect x="468.39" y="269.31" width="4" height="0.9" fill="#ED7D31"/><polygon points="468.39,269.31 472.39,269.31 479.43,261.79 475.43,261.79" fill="#B35E22"/>
<polygon points="477.97,270.21 477.97,269.31 485.01,261.79 489.01,261.79 489.01,262.69 481.97,270.21" fill="#9B5220"/><rect x="477.97" y="269.31" width="4" height="0.9" fill="#ED7D31"/><polygon points="477.97,269.31 481.97,269.31 489.01,261.79 485.01,261.79" fill="#B35E22"/>
<polygon points="487.54,270.21 487.54,269.31 494.58,261.79 498.58,261.79 498.58,262.69 491.54,270.21" fill="#9B5220"/><rect x="487.54" y="269.31" width="4" height="0.9" fill="#ED7D31"/><polygon points="487.54,269.31 491.54,269.31 498.58,261.79 494.58,261.79" fill="#B35E22"/>
<polygon points="497.12,270.21 497.12,263.49 504.16,255.96 508.16,255.96 508.16,262.69 501.12,270.21" fill="#9B5220"/><rect x="497.12" y="263.49" width="4" height="6.72" fill="#ED7D31"/><polygon points="497.12,263.49 501.12,263.49 508.16,255.96 504.16,255.96" fill="#B35E22"/>
<polygon points="506.69,270.21 506.69,269.31 513.73,261.79 517.73,261.79 517.73,262.69 510.69,270.21" fill="#9B5220"/><rect x="506.69" y="269.31" width="4" height="0.9" fill="#ED7D31"/><polygon points="506.69,269.31 510.69,269.31 517.73,261.79 513.73,261.79" fill="#B35E22"/>
<polygon points="516.27,270.21 516.27,264.91 523.31,257.38 527.31,257.38 527.31,262.69 520.27,270.21" fill="#9B5220"/><rect x="516.27" y="264.91" width="4" height="5.3" fill="#ED7D31"/><polygon points="516.27,264.91 520.27,264.91 527.31,257.38 523.31,257.38" fill="#B35E22"/>
<polygon points="525.84,270.21 525.84,269.31 532.88,261.79 536.88,261.79 536.88,262.69 529.84,270.21" fill="#9B5220"/><rect x="525.84" y="269.31" width="4" height="0.9" fill="#ED7D31"/><polygon points="525.84,269.31 529.84,269.31 536.88,261.79 532.88,261.79" fill="#B35E22"/>
<polygon points="535.42,270.21 535.42,264.54 542.46,257.01 546.46,257.01 546.46,262.69 539.42,270.21" fill="#9B5220"/><rect x="535.42" y="264.54" width="4" height="5.68" fill="#ED7D31"/><polygon points="535.42,264.54 539.42,264.54 546.46,257.01 542.46,257.01" fill="#B35E22"/>
<polygon points="544.99,270.21 544.99,269.31 552.03,261.79 556.03,261.79 556.03,262.69 548.99,270.21" fill="#9B5220"/><rect x="544.99" y="269.31" width="4" height="0.9" fill="#ED7D31"/><polygon points="544.99,269.31 548.99,269.31 556.03,261.79 552.03,261.79" fill="#B35E22"/>
<polygon points="554.57,270.21 554.57,269.31 561.61,261.79 565.61,261.79 565.61,262.69 558.57,270.21" fill="#9B5220"/><rect x="554.57" y="269.31" width="4" height="0.9" fill="#ED7D31"/><polygon points="554.57,269.31 558.57,269.31 565.61,261.79 561.61,261.79" fill="#B35E22"/>
<polygon points="564.14,270.21 564.14,269.31 571.18,261.79 575.18,261.79 575.18,262.69 568.14,270.21" fill="#9B5220"/><rect x="564.14" y="269.31" width="4" height="0.9" fill="#ED7D31"/><polygon points="564.14,269.31 568.14,269.31 575.18,261.79 571.18,261.79" fill="#B35E22"/>
<polygon points="573.72,270.21 573.72,269.31 580.76,261.79 584.76,261.79 584.76,262.69 577.72,270.21" fill="#9B5220"/><rect x="573.72" y="269.31" width="4" height="0.9" fill="#ED7D31"/><polygon points="573.72,269.31 577.72,269.31 584.76,261.79 580.76,261.79" fill="#B35E22"/>
<polygon points="86.49,289.51 86.49,288.61 93.53,281.09 97.53,281.09 97.53,281.99 90.49,289.51" fill="#2E4F8B"/><rect x="86.49" y="288.61" width="4" height="0.9" fill="#4472C4"/><polygon points="86.49,288.61 90.49,288.61 97.53,281.09 93.53,281.09" fill="#34599C"/>
<polygon points="96.07,289.51 96.07,288.61 103.11,281.09 107.11,281.09 107.11,281.99 100.07,289.51" fill="#2E4F8B"/><rect x="96.07" y="288.61" width="4" height="0.9" fill="#4472C4"/><polygon points="96.07,288.61 100.07,288.61 107.11,281.09 103.11,281.09" fill="#34599C"/>
<polygon points="105.64,289.51 105.64,288.61 112.68,281.09 116.68,281.09 116.68,281.99 109.64,289.51" fill="#2E4F8B"/><rect x="105.64" y="288.61" width="4" height="0.9" fill="#4472C4"/><polygon points="105.64,288.61 109.64,288.61 116.68,281.09 112.68,281.09" fill="#34599C"/>
<polygon points="115.22,289.51 115.22,288.61 122.26,281.09 126.26,281.09 126.26,281.99 119.22,289.51" fill="#2E4F8B"/><rect x="115.22" y="288.61" width="4" height="0.9" fill="#4472C4"/><polygon points="115.22,288.61 119.22,288.61 126.26,281.09 122.26,281.09" fill="#34599C"/>
<polygon points="124.79,289.51 124.79,288.61 131.83,281.09 135.83,281.09 135.83,281.99 128.79,289.51" fill="#2E4F8B"/><rect x="124.79" y="288.61" width="4" height="0.9" fill="#4472C4"/><polygon points="124.79,288.61 128.79,288.61 135.83,281.09 131.83,281.09" fill="#34599C"/>
<polygon points="134.37,289.51 134.37,288.61 141.41,281.09 145.41,281.09 145.41,281.99 138.37,289.51" fill="#2E4F8B"/><rect x="134.37" y="288.61" width="4" height="0.9" fill="#4472C4"/><polygon points="134.37,288.61 138.37,288.61 145.41,281.09 141.41,281.09" fill="#34599C"/>
<polygon points="143.94,289.51 143.94,288.61 150.98,281.09 154.98,281.09 154.98,281.99 147.94,289.51" fill="#2E4F8B"/><rect x="143.94" y="288.61" width="4" height="0.9" fill="#4472C4"/><polygon points="143.94,288.61 147.94,288.61 154.98,281.09 150.98,281.09" fill="#34599C"/>
<polygon points="153.52,289.51 153.52,265.61 160.56,258.08 164.56,258.08 164.56,281.99 157.52,289.51" fill="#2E4F8B"/><rect x="153.52" y="265.61" width="4" height="23.9" fill="#4472C4"/><polygon points="153.52,265.61 157.52,265.61 164.56,258.08 160.56,258.08" fill="#34599C"/>
<polygon points="163.09,289.51 163.09,288.61 170.13,281.09 174.13,281.09 174.13,281.99 167.09,289.51" fill="#2E4F8B"/><rect x="163.09" y="288.61" width="4" height="0.9" fill="#4472C4"/><polygon points="163.09,288.61 167.09,288.61 174.13,281.09 170.13,281.09" fill="#34599C"/>
<polygon points="172.67,289.51 172.67,238.72 179.71,231.19 183.71,231.19 183.71,281.99 176.67,289.51" fill="#2E4F8B"/><rect x="172.67" y="238.72" width="4" height="50.8" fill="#4472C4"/><polygon points="172.67,238.72 176.67,238.72 183.71,231.19 179.71,231.19" fill="#34599C"/>
<polygon points="182.24,289.51 182.24,258.14 189.28,250.61 193.28,250.61 193.28,281.99 186.24,289.51" fill="#2E4F8B"/><rect x="182.24" y="258.14" width="4" height="31.37" fill="#4472C4"/><polygon points="182.24,258.14 186.24,258.14 193.28,250.61 189.28,250.61" fill="#34599C"/>
<polygon points="191.82,289.51 191.82,288.61 198.86,281.09 202.86,281.09 202.86,281.99 195.82,289.51" fill="#2E4F8B"/><rect x="191.82" y="288.61" width="4" height="0.9" fill="#4472C4"/><polygon points="191.82,288.61 195.82,288.61 202.86,281.09 198.86,281.09" fill="#34599C"/>
<polygon points="201.39,289.51 201.39,288.61 208.43,281.09 212.43,281.09 212.43,281.99 205.39,289.51" fill="#2E4F8B"/><rect x="201.39" y="288.61" width="4" height="0.9" fill="#4472C4"/><polygon points="201.39,288.61 205.39,288.61 212.43,281.09 208.43,281.09" fill="#34599C"/>
<polygon points="210.97,289.51 210.97,286.23 218.01,278.7 222.01,278.7 222.01,281.99 214.97,289.51" fill="#2E4F8B"/><rect x="210.97" y="286.23" width="4" height="3.29" fill="#4472C4"/><polygon points="210.97,286.23 214.97,286.23 222.01,278.7 218.01,278.7" fill="#34599C"/>
<polygon points="220.54,289.51 220.54,288.61 227.58,281.09 231.58,281.09 231.58,281.99 224.54,289.51" fill="#2E4F8B"/><rect x="220.54" y="288.61" width="4" height="0.9" fill="#4472C4"/><polygon points="220.54,288.61 224.54,288.61 231.58,281.09 227.58,281.09" fill="#34599C"/>
<polygon points="230.12,289.51 230.12,288.61 237.16,281.09 241.16,281.09 241.16,281.99 234.12,289.51" fill="#2E4F8B"/><rect x="230.12" y="288.61" width="4" height="0.9" fill="#4472C4"/><polygon points="230.12,288.61 234.12,288.61 241.16,281.09 237.16,281.09" fill="#34599C"/>
<polygon points="239.69,289.51 239.69,288.61 246.73,281.09 250.73,281.09 250.73,281.99 243.69,289.51" fill="#2E4F8B"/><rect x="239.69" y="288.61" width="4" height="0.9" fill="#4472C4"/><polygon points="239.69,288.61 243.69,288.61 250.73,281.09 246.73,281.09" fill="#34599C"/>
<polygon points="249.27,289.51 249.27,288.61 256.31,281.09 260.31,281.09 260.31,281.99 253.27,289.51" fill="#2E4F8B"/><rect x="249.27" y="288.61" width="4" height="0.9" fill="#4472C4"/><polygon points="249.27,288.61 253.27,288.61 260.31,281.09 256.31,281.09" fill="#34599C"/>
<polygon points="258.84,289.51 258.84,149.82 265.88,142.3 269.88,142.3 269.88,281.99 262.84,289.51" fill="#2E4F8B"/><rect x="258.84" y="149.82" width="4" height="139.69" fill="#4472C4"/><polygon points="258.84,149.82 262.84,149.82 269.88,142.3 265.88,142.3" fill="#34599C"/>
<polygon points="268.42,289.51 268.42,288.61 275.46,281.09 279.46,281.09 279.46,281.99 272.42,289.51" fill="#2E4F8B"/><rect x="268.42" y="288.61" width="4" height="0.9" fill="#4472C4"/><polygon points="268.42,288.61 272.42,288.61 279.46,281.09 275.46,281.09" fill="#34599C"/>
<polygon points="277.99,289.51 277.99,288.61 285.03,281.09 289.03,281.09 289.03,281.99 281.99,289.51" fill="#2E4F8B"/><rect x="277.99" y="288.61" width="4" height="0.9" fill="#4472C4"/><polygon points="277.99,288.61 281.99,288.61 289.03,281.09 285.03,281.09" fill="#34599C"/>
<polygon points="287.57,289.51 287.57,225.27 294.61,217.74 298.61,217.74 298.61,281.99 291.57,289.51" fill="#2E4F8B"/><rect x="287.57" y="225.27" width="4" height="64.24" fill="#4472C4"/><polygon points="287.57,225.27 291.57,225.27 298.61,217.74 294.61,217.74" fill="#34599C"/>
<polygon points="297.14,289.51 297.14,280.25 304.18,272.72 308.18,272.72 308.18,281.99 301.14,289.51" fill="#2E4F8B"/><rect x="297.14" y="280.25" width="4" height="9.26" fill="#4472C4"/><polygon points="297.14,280.25 301.14,280.25 308.18,272.72 304.18,272.72" fill="#34599C"/>
<polygon points="306.72,289.51 306.72,284.81 313.76,277.28 317.76,277.28 317.76,281.99 310.72,289.51" fill="#2E4F8B"/><rect x="306.72" y="284.81" width="4" height="4.71" fill="#4472C4"/><polygon points="306.72,284.81 310.72,284.81 317.76,277.28 313.76,277.28" fill="#34599C"/>
<polygon points="316.29,289.51 316.29,288.61 323.33,281.09 327.33,281.09 327.33,281.99 320.29,289.51" fill="#2E4F8B"/><rect x="316.29" y="288.61" width="4" height="0.9" fill="#4472C4"/><polygon points="316.29,288.61 320.29,288.61 327.33,281.09 323.33,281.09" fill="#34599C"/>
<polygon points="325.87,289.51 325.87,253.13 332.91,245.61 336.91,245.61 336.91,281.99 329.87,289.51" fill="#2E4F8B"/><rect x="325.87" y="253.13" width="4" height="36.38" fill="#4472C4"/><polygon points="325.87,253.13 329.87,253.13 336.91,245.61 332.91,245.61" fill="#34599C"/>
<polygon points="335.44,289.51 335.44,288.61 342.48,281.09 346.48,281.09 346.48,281.99 339.44,289.51" fill="#2E4F8B"/><rect x="335.44" y="288.61" width="4" height="0.9" fill="#4472C4"/><polygon points="335.44,288.61 339.44,288.61 346.48,281.09 342.48,281.09" fill="#34599C"/>
<polygon points="345.02,289.51 345.02,208.09 352.06,200.56 356.06,200.56 356.06,281.99 349.02,289.51" fill="#2E4F8B"/><rect x="345.02" y="208.09" width="4" height="81.42" fill="#4472C4"/><polygon points="345.02,208.09 349.02,208.09 356.06,200.56 352.06,200.56" fill="#34599C"/>
<polygon points="354.59,289.51 354.59,288.61 361.63,281.09 365.63,281.09 365.63,281.99 358.59,289.51" fill="#2E4F8B"/><rect x="354.59" y="288.61" width="4" height="0.9" fill="#4472C4"/><polygon points="354.59,288.61 358.59,288.61 365.63,281.09 361.63,281.09" fill="#34599C"/>
<polygon points="364.17,289.51 364.17,236.25 371.21,228.73 375.21,228.73 375.21,281.99 368.17,289.51" fill="#2E4F8B"/><rect x="364.17" y="236.25" width="4" height="53.26" fill="#4472C4"/><polygon points="364.17,236.25 368.17,236.25 375.21,228.73 371.21,228.73" fill="#34599C"/>
<polygon points="373.74,289.51 373.74,288.61 380.78,281.09 384.78,281.09 384.78,281.99 377.74,289.51" fill="#2E4F8B"/><rect x="373.74" y="288.61" width="4" height="0.9" fill="#4472C4"/><polygon points="373.74,288.61 377.74,288.61 384.78,281.09 380.78,281.09" fill="#34599C"/>
<polygon points="383.32,289.51 383.32,288.61 390.36,281.09 394.36,281.09 394.36,281.99 387.32,289.51" fill="#2E4F8B"/><rect x="383.32" y="288.61" width="4" height="0.9" fill="#4472C4"/><polygon points="383.32,288.61 387.32,288.61 394.36,281.09 390.36,281.09" fill="#34599C"/>
<polygon points="392.89,289.51 392.89,288.61 399.93,281.09 403.93,281.09 403.93,281.99 396.89,289.51" fill="#2E4F8B"/><rect x="392.89" y="288.61" width="4" height="0.9" fill="#4472C4"/><polygon points="392.89,288.61 396.89,288.61 403.93,281.09 399.93,281.09" fill="#34599C"/>
<polygon points="402.47,289.51 402.47,223.03 409.51,215.5 413.51,215.5 413.51,281.99 406.47,289.51" fill="#2E4F8B"/><rect x="402.47" y="223.03" width="4" height="66.48" fill="#4472C4"/><polygon points="402.47,223.03 406.47,223.03 413.51,215.5 409.51,215.5" fill="#34599C"/>
<polygon points="412.04,289.51 412.04,283.16 419.08,275.64 423.08,275.64 423.08,281.99 416.04,289.51" fill="#2E4F8B"/><rect x="412.04" y="283.16" width="4" height="6.35" fill="#4472C4"/><polygon points="412.04,283.16 416.04,283.16 423.08,275.64 419.08,275.64" fill="#34599C"/>
<polygon points="421.62,289.51 421.62,288.61 428.66,281.09 432.66,281.09 432.66,281.99 425.62,289.51" fill="#2E4F8B"/><rect x="421.62" y="288.61" width="4" height="0.9" fill="#4472C4"/><polygon points="421.62,288.61 425.62,288.61 432.66,281.09 428.66,281.09" fill="#34599C"/>
<polygon points="431.19,289.51 431.19,288.61 438.23,281.09 442.23,281.09 442.23,281.99 435.19,289.51" fill="#2E4F8B"/><rect x="431.19" y="288.61" width="4" height="0.9" fill="#4472C4"/><polygon points="431.19,288.61 435.19,288.61 442.23,281.09 438.23,281.09" fill="#34599C"/>
<polygon points="440.77,289.51 440.77,151.62 447.81,144.09 451.81,144.09 451.81,281.99 444.77,289.51" fill="#2E4F8B"/><rect x="440.77" y="151.62" width="4" height="137.9" fill="#4472C4"/><polygon points="440.77,151.62 444.77,151.62 451.81,144.09 447.81,144.09" fill="#34599C"/>
<polygon points="450.34,289.51 450.34,288.61 457.38,281.09 461.38,281.09 461.38,281.99 454.34,289.51" fill="#2E4F8B"/><rect x="450.34" y="288.61" width="4" height="0.9" fill="#4472C4"/><polygon points="450.34,288.61 454.34,288.61 461.38,281.09 457.38,281.09" fill="#34599C"/>
<polygon points="459.92,289.51 459.92,288.61 466.96,281.09 470.96,281.09 470.96,281.99 463.92,289.51" fill="#2E4F8B"/><rect x="459.92" y="288.61" width="4" height="0.9" fill="#4472C4"/><polygon points="459.92,288.61 463.92,288.61 470.96,281.09 466.96,281.09" fill="#34599C"/>
<polygon points="469.49,289.51 469.49,288.61 476.53,281.09 480.53,281.09 480.53,281.99 473.49,289.51" fill="#2E4F8B"/><rect x="469.49" y="288.61" width="4" height="0.9" fill="#4472C4"/><polygon points="469.49,288.61 473.49,288.61 480.53,281.09 476.53,281.09" fill="#34599C"/>
<polygon points="479.07,289.51 479.07,282.49 486.11,274.96 490.11,274.96 490.11,281.99 483.07,289.51" fill="#2E4F8B"/><rect x="479.07" y="282.49" width="4" height="7.02" fill="#4472C4"/><polygon points="479.07,282.49 483.07,282.49 490.11,274.96 486.11,274.96" fill="#34599C"/>
<polygon points="488.64,289.51 488.64,288.61 495.68,281.09 499.68,281.09 499.68,281.99 492.64,289.51" fill="#2E4F8B"/><rect x="488.64" y="288.61" width="4" height="0.9" fill="#4472C4"/><polygon points="488.64,288.61 492.64,288.61 499.68,281.09 495.68,281.09" fill="#34599C"/>
<polygon points="498.22,289.51 498.22,283.91 505.26,276.38 509.26,276.38 509.26,281.99 502.22,289.51" fill="#2E4F8B"/><rect x="498.22" y="283.91" width="4" height="5.6" fill="#4472C4"/><polygon points="498.22,283.91 502.22,283.91 509.26,276.38 505.26,276.38" fill="#34599C"/>
<polygon points="507.79,289.51 507.79,288.61 514.83,281.09 518.83,281.09 518.83,281.99 511.79,289.51" fill="#2E4F8B"/><rect x="507.79" y="288.61" width="4" height="0.9" fill="#4472C4"/><polygon points="507.79,288.61 511.79,288.61 518.83,281.09 514.83,281.09" fill="#34599C"/>
<polygon points="517.37,289.51 517.37,278.31 524.41,270.78 528.41,270.78 528.41,281.99 521.37,289.51" fill="#2E4F8B"/><rect x="517.37" y="278.31" width="4" height="11.21" fill="#4472C4"/><polygon points="517.37,278.31 521.37,278.31 528.41,270.78 524.41,270.78" fill="#34599C"/>
<polygon points="526.94,289.51 526.94,288.61 533.98,281.09 537.98,281.09 537.98,281.99 530.94,289.51" fill="#2E4F8B"/><rect x="526.94" y="288.61" width="4" height="0.9" fill="#4472C4"/><polygon points="526.94,288.61 530.94,288.61 537.98,281.09 533.98,281.09" fill="#34599C"/>
<polygon points="536.52,289.51 536.52,288.61 543.56,281.09 547.56,281.09 547.56,281.99 540.52,289.51" fill="#2E4F8B"/><rect x="536.52" y="288.61" width="4" height="0.9" fill="#4472C4"/><polygon points="536.52,288.61 540.52,288.61 547.56,281.09 543.56,281.09" fill="#34599C"/>
<polygon points="546.09,289.51 546.09,288.61 553.13,281.09 557.13,281.09 557.13,281.99 550.09,289.51" fill="#2E4F8B"/><rect x="546.09" y="288.61" width="4" height="0.9" fill="#4472C4"/><polygon points="546.09,288.61 550.09,288.61 557.13,281.09 553.13,281.09" fill="#34599C"/>
<polygon points="555.67,289.51 555.67,288.61 562.71,281.09 566.71,281.09 566.71,281.99 559.67,289.51" fill="#2E4F8B"/><rect x="555.67" y="288.61" width="4" height="0.9" fill="#4472C4"/><polygon points="555.67,288.61 559.67,288.61 566.71,281.09 562.71,281.09" fill="#34599C"/>
<text transform="translate(71.97,54.6) scale(1.1135,1)" font-size="18.78" fill="#0d0d0d" stroke="#0d0d0d" stroke-width="0.3">LF</text>
<text transform="translate(122.17,54.6) scale(1.1243,1)" font-size="18.57" fill="#0d0d0d" stroke="#0d0d0d" stroke-width="0.3">LO</text>
<text transform="translate(175.58,54.6) scale(1.0936,1)" font-size="18.78" fill="#0d0d0d" stroke="#0d0d0d" stroke-width="0.3">HF</text>
<text transform="translate(227.77,54.6) scale(1.1224,1)" font-size="18.57" fill="#0d0d0d" stroke="#0d0d0d" stroke-width="0.3">HO</text>
<rect x="58.3" y="43.4" width="9.4" height="10.3" fill="#4472C4"/>
<rect x="106.7" y="43.4" width="10.7" height="10.3" fill="#ED7D31"/>
<rect x="160.4" y="43.4" width="10.3" height="10.3" fill="#A5A5A5"/>
<rect x="213.6" y="43.4" width="9.3" height="10.3" fill="#FFC000"/>
<text transform="translate(578.77,290.5) scale(1.0180,1)" font-size="14.2" fill="#262626" stroke="#262626" stroke-width="0.3">LF</text>
<text transform="translate(596.86,271.1) scale(1.0870,1)" font-size="13.43" fill="#262626" stroke="#262626" stroke-width="0.3">LO</text>
<text transform="translate(614.26,251.9) scale(1.0398,1)" font-size="14.2" fill="#262626" stroke="#262626" stroke-width="0.3">HF</text>
<text transform="translate(631.94,232.6) scale(1.1731,1)" font-size="12.98" fill="#262626" stroke="#262626" stroke-width="0.3">HO</text>
<text transform="translate(59.85,300.09) scale(0.93,1)" font-size="15.0" fill="#595959" stroke="#595959" stroke-width="0.3">0</text>
<text transform="translate(59.88,262.66) scale(0.93,1)" font-size="15.0" fill="#595959" stroke="#595959" stroke-width="0.3">5</text>
<text transform="translate(52.87,225.39) scale(0.93,1)" font-size="15.0" fill="#595959" stroke="#595959" stroke-width="0.3">10</text>
<text transform="translate(52.91,188) scale(0.93,1)" font-size="15.0" fill="#595959" stroke="#595959" stroke-width="0.3">15</text>
<text transform="translate(52.87,150.69) scale(0.93,1)" font-size="15.0" fill="#595959" stroke="#595959" stroke-width="0.3">20</text>
<text transform="translate(88.49,317.34) rotate(-90) scale(0.95,1)" font-size="14.3" fill="#262626" stroke="#262626" stroke-width="0.3">92</text>
<text transform="translate(107.56,324.47) rotate(-90) scale(0.95,1)" font-size="14.3" fill="#262626" stroke="#262626" stroke-width="0.3">106</text>
<text transform="translate(126.59,323.96) rotate(-90) scale(0.95,1)" font-size="14.3" fill="#262626" stroke="#262626" stroke-width="0.3">116</text>
<text transform="translate(145.64,323.82) rotate(-90) scale(0.95,1)" font-size="14.3" fill="#262626" stroke="#262626" stroke-width="0.3">119</text>
<text transform="translate(164.69,324.13) rotate(-90) scale(0.95,1)" font-size="14.3" fill="#262626" stroke="#262626" stroke-width="0.3">122</text>
<text transform="translate(183.75,324.33) rotate(-90) scale(0.95,1)" font-size="14.3" fill="#262626" stroke="#262626" stroke-width="0.3">129</text>
<text transform="translate(202.8,324.67) rotate(-90) scale(0.95,1)" font-size="14.3" fill="#262626" stroke="#262626" stroke-width="0.3">134</text>
<text transform="translate(221.85,324.47) rotate(-90) scale(0.95,1)" font-size="14.3" fill="#262626" stroke="#262626" stroke-width="0.3">136</text>
<text transform="translate(240.9,324.13) rotate(-90) scale(0.95,1)" font-size="14.3" fill="#262626" stroke="#262626" stroke-width="0.3">142</text>
<text transform="translate(259.94,324.67) rotate(-90) scale(0.95,1)" font-size="14.3" fill="#262626" stroke="#262626" stroke-width="0.3">144</text>
<text transform="translate(279.02,324.37) rotate(-90) scale(0.95,1)" font-size="14.3" fill="#262626" stroke="#262626" stroke-width="0.3">150</text>
<text transform="translate(298.06,324.47) rotate(-90) scale(0.95,1)" font-size="14.3" fill="#262626" stroke="#262626" stroke-width="0.3">156</text>
<text transform="translate(317.11,324.47) rotate(-90) scale(0.95,1)" font-size="14.3" fill="#262626" stroke="#262626" stroke-width="0.3">166</text>
<text transform="translate(336.16,324.33) rotate(-90) scale(0.95,1)" font-size="14.3" fill="#262626" stroke="#262626" stroke-width="0.3">169</text>
<text transform="translate(355.21,324.33) rotate(-90) scale(0.95,1)" font-size="14.3" fill="#262626" stroke="#262626" stroke-width="0.3">179</text>
<text transform="translate(374.28,324.06) rotate(-90) scale(0.95,1)" font-size="14.3" fill="#262626" stroke="#262626" stroke-width="0.3">181</text>
<text transform="translate(393.34,324.67) rotate(-90) scale(0.95,1)" font-size="14.3" fill="#262626" stroke="#262626" stroke-width="0.3">184</text>
<text transform="translate(412.37,324.67) rotate(-90) scale(0.95,1)" font-size="14.3" fill="#262626" stroke="#262626" stroke-width="0.3">194</text>
<text transform="translate(431.44,324.13) rotate(-90) scale(0.95,1)" font-size="14.3" fill="#262626" stroke="#262626" stroke-width="0.3">202</text>
<text transform="translate(450.47,324.33) rotate(-90) scale(0.95,1)" font-size="14.3" fill="#262626" stroke="#262626" stroke-width="0.3">213</text>
<text transform="translate(469.53,324.47) rotate(-90) scale(0.95,1)" font-size="14.3" fill="#262626" stroke="#262626" stroke-width="0.3">227</text>
<text transform="translate(488.6,324.37) rotate(-90) scale(0.95,1)" font-size="14.3" fill="#262626" stroke="#262626" stroke-width="0.3">230</text>
<text transform="translate(507.63,324.33) rotate(-90) scale(0.95,1)" font-size="14.3" fill="#262626" stroke="#262626" stroke-width="0.3">243</text>
<text transform="translate(526.68,324.47) rotate(-90) scale(0.95,1)" font-size="14.3" fill="#262626" stroke="#262626" stroke-width="0.3">256</text>
<text transform="translate(545.75,324.37) rotate(-90) scale(0.95,1)" font-size="14.3" fill="#262626" stroke="#262626" stroke-width="0.3">268</text>
<text transform="translate(244.7,355.3) scale(0.9666,1)" font-size="17.12" fill="#0d0d0d" stroke="#0d0d0d" stroke-width="0.3">Molecular</text>
<text transform="translate(324.1,355.3) scale(0.9714,1)" font-size="17.12" fill="#0d0d0d" stroke="#0d0d0d" stroke-width="0.3">weight,</text>
<text transform="translate(381.68,355.3) scale(0.9775,1)" font-size="17.86" fill="#0d0d0d" stroke="#0d0d0d" stroke-width="0.3">Da</text>
<text transform="translate(34.5,267.18) rotate(-90) scale(0.9836,1)" font-size="17.36" fill="#0d0d0d" stroke="#0d0d0d" stroke-width="0.3">Content,</text>
<text transform="translate(34.5,200.7) rotate(-90) scale(0.9001,1)" font-size="17.35" fill="#0d0d0d" stroke="#0d0d0d" stroke-width="0.3">wt.</text>
<text transform="translate(34.5,169.81) rotate(-90) scale(1.0053,1)" font-size="17.29" fill="#0d0d0d" stroke="#0d0d0d" stroke-width="0.3">%</text>
</svg>


</body></html>
